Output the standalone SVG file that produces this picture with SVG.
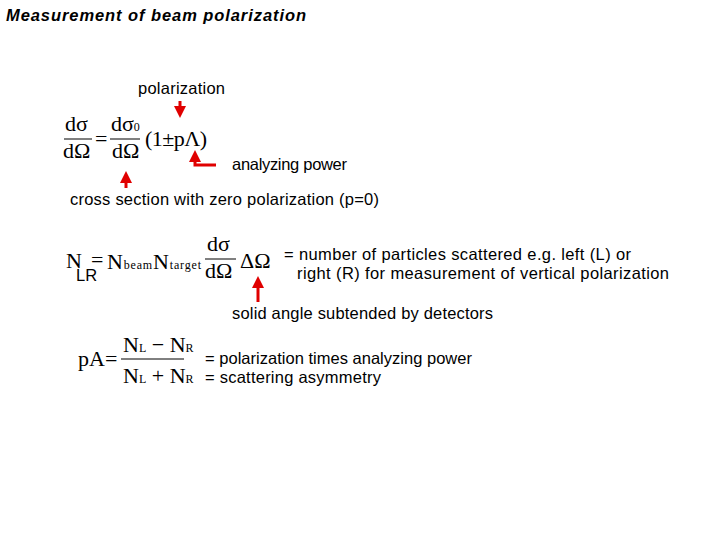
<svg xmlns="http://www.w3.org/2000/svg" width="720" height="540" viewBox="0 0 720 540">
<style>
.t{font-family:"Liberation Sans",Arial,sans-serif;font-size:16.5px;fill:#000}
.m{font-family:"Liberation Serif","Times New Roman",serif;font-size:22px;fill:#000}
.s{font-size:12px}
.r{stroke:#e00000;fill:none;stroke-width:3}
.f{stroke:#000;stroke-width:1}
</style>
<defs><marker id="a" markerWidth="4" markerHeight="4" refX="2" refY="2" orient="auto"><path d="M0,0L4,2L0,4Z" fill="#e00000"/></marker></defs>
<rect width="720" height="540" fill="#fff"/>
<text x="6" y="21" class="t" font-style="italic" font-weight="bold" font-size="18" textLength="300">Measurement of beam polarization</text>
<g id="eq1">
<text x="65" y="131" class="m">dσ</text><line x1="64" y1="139" x2="92" y2="139" class="f"/><text x="63" y="158" class="m">dΩ</text>
<text x="95" y="146" class="m">=</text>
<text x="111" y="131" class="m">dσ<tspan class="s">0</tspan></text><line x1="110" y1="139" x2="140" y2="139" class="f"/><text x="112" y="158" class="m">dΩ</text>
<text x="145" y="146" class="m" textLength="62">(1±pΛ)</text>
</g>
<g id="eq2">
<text x="66" y="268" class="m">N</text><text x="76" y="281" class="t" font-size="9">LR</text>
<text x="91" y="267" class="m">=</text>
<text x="107" y="269" class="m" textLength="94">N<tspan class="s">beam</tspan>N<tspan class="s">target</tspan></text>
<text x="207" y="251" class="m">dσ</text><line x1="205" y1="259" x2="236" y2="259" class="f"/><text x="205" y="278" class="m">dΩ</text>
<text x="240" y="268" class="m">ΔΩ</text>
</g>
<g id="eq3">
<text x="78" y="366" class="m">pA</text><text x="105" y="366" class="m">=</text>
<text x="123" y="352" class="m">N<tspan class="s">L</tspan> − N<tspan class="s">R</tspan></text>
<line x1="121" y1="359" x2="184" y2="359" class="f"/>
<text x="123" y="383" class="m">N<tspan class="s">L</tspan> + N<tspan class="s">R</tspan></text>
</g>
<g id="labels">
<text x="138" y="94" class="t" textLength="87">polarization</text>
<text x="232" y="170" class="t" textLength="115">analyzing power</text>
<text x="70" y="205" class="t" textLength="309">cross section with zero polarization (p=0)</text>
<text x="284" y="260" class="t" textLength="347">= number of particles scattered e.g. left (L) or</text>
<text x="297" y="279" class="t" textLength="372">right (R) for measurement of vertical polarization</text>
<text x="232" y="319" class="t" textLength="261">solid angle subtended by detectors</text>
<text x="205" y="364" class="t" textLength="267">= polarization times analyzing power</text>
<text x="205" y="383" class="t" textLength="176">= scattering asymmetry</text>
</g>
<g id="connectors">
<path d="M180,101V112" class="r" marker-end="url(#a)"/>
<path d="M216,165H195V156" class="r" marker-end="url(#a)"/>
<path d="M126,188V177" class="r" marker-end="url(#a)"/>
<path d="M258,302V282" class="r" stroke-width="4" marker-end="url(#a)"/>
</g>
</svg>
